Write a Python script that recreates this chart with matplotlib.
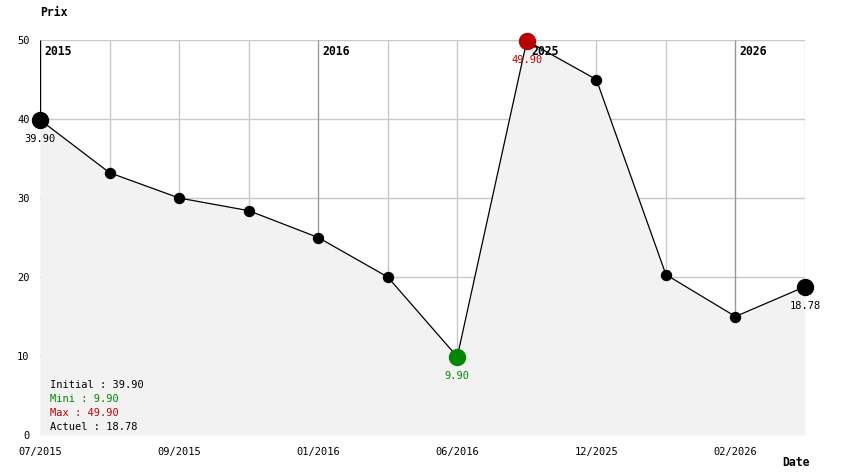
import matplotlib
matplotlib.use('Agg')
import matplotlib.pyplot as plt

# price history, one point per sample
prices = [39.90, 33.2, 30.0, 28.4, 25.0, 20.0, 9.90, 49.90, 45.0, 20.3, 15.0, 18.78]
tick_labels = ['07/2015', '09/2015', '01/2016', '06/2016', '12/2025', '02/2026']
year_labels = ['2015', '2016', '2025', '2026']
year_index = [0, 4, 7, 10]
y_ticks = [0, 10, 20, 30, 40, 50]

initial, current = prices[0], prices[-1]
lo, hi = min(prices), max(prices)
i_lo, i_hi = prices.index(lo), prices.index(hi)

GREEN = '#008800'
RED = '#bb0000'
FONT = 'DejaVu Sans Mono'
FS = 7.5
FS_B = 8.3

plt.rcParams['font.family'] = FONT

W, H = 844, 474
fig = plt.figure(figsize=(W / 100, H / 100), dpi=100)
ax = fig.add_axes([40 / W, 39 / H, 765 / W, 395 / H])

x = list(range(len(prices)))
ax.set_xlim(0, len(prices) - 1)
ax.set_ylim(0, 50)

# grid (the area under the curve hides it, so stop vertical lines at the curve)
for yv in y_ticks[1:]:
    ax.axhline(yv, color='#c8c8c8', lw=1, zorder=1)
for i in x:
    if i == 0:
        c = 'black'
    elif i in year_index:
        c = '#999999'
    else:
        c = '#c8c8c8'
    ax.vlines(i, prices[i], 50, color=c, lw=1, zorder=1)

# year markers at the top
for i, lab in zip(year_index, year_labels):
    ax.annotate(lab, xy=(i, 50), xytext=(3, -3.5), textcoords='offset points',
                ha='left', va='top', fontsize=FS_B, fontweight='bold', zorder=3.5)

ax.fill_between(x, prices, 0, color='#f2f2f2', zorder=2, lw=0)
ax.plot(x, prices, color='black', lw=0.9, zorder=3)

# small markers for normal points, big ones for first / last / min / max
special = {0: 'black', len(prices) - 1: 'black', i_lo: GREEN, i_hi: RED}
small = [i for i in x if i not in special]
ax.plot(small, [prices[i] for i in small], 'o', color='black', ms=7.2, zorder=4)
for i, c in special.items():
    ax.plot(i, prices[i], 'o', color=c, ms=11.5, zorder=4, clip_on=False)
    ax.annotate(f'{prices[i]:.2f}', xy=(i, prices[i]), xytext=(0, -14),
                textcoords='offset points', ha='center', va='center',
                fontsize=FS, color=c, zorder=5)

for s in ax.spines.values():
    s.set_visible(False)
ax.set_yticks(y_ticks)
ax.set_yticklabels([str(v) for v in y_ticks])
ax.set_xticks(x[::2])
ax.set_xticklabels(tick_labels)
ax.tick_params(length=0, labelsize=FS)
ax.tick_params(axis='y', pad=7.5)
ax.tick_params(axis='x', pad=8.5)

fig.text(40 / W, 1 - 12 / H, 'Prix', ha='left', va='center', fontsize=FS_B, fontweight='bold')
fig.text(796 / W, 1 - 463 / H, 'Date', ha='center', va='center', fontsize=FS_B, fontweight='bold')

summary = [(f'Initial : {initial:.2f}', 'black'),
           (f'Mini : {lo:.2f}', GREEN),
           (f'Max : {hi:.2f}', RED),
           (f'Actuel : {current:.2f}', 'black')]
for k, (txt, c) in enumerate(summary):
    fig.text(50 / W, 1 - (385 + 14 * k) / H, txt, ha='left', va='center',
             fontsize=FS, color=c)

fig.savefig('out.png', dpi=100)
